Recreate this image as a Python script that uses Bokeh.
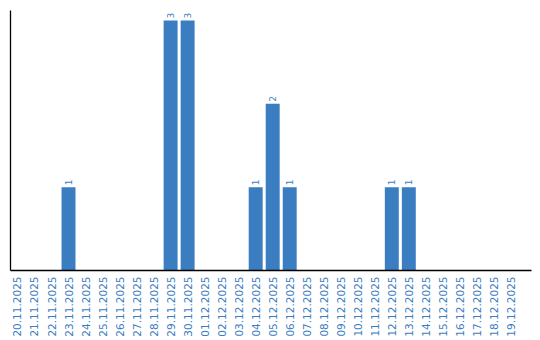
from bokeh.plotting import figure
from bokeh.models import ColumnDataSource, FixedTicker, Range1d
from bokeh.core.properties import value
from bokeh.embed import file_html
from bokeh.resources import INLINE
import math

dates = ["20.11.2025", "21.11.2025", "22.11.2025", "23.11.2025", "24.11.2025",
         "25.11.2025", "26.11.2025", "27.11.2025", "28.11.2025", "29.11.2025",
         "30.11.2025", "01.12.2025", "02.12.2025", "03.12.2025", "04.12.2025",
         "05.12.2025", "06.12.2025", "07.12.2025", "08.12.2025", "09.12.2025",
         "10.12.2025", "11.12.2025", "12.12.2025", "13.12.2025", "14.12.2025",
         "15.12.2025", "16.12.2025", "17.12.2025", "18.12.2025", "19.12.2025"]
counts = [0, 0, 0, 1, 0, 0, 0, 0, 0, 3,
          3, 0, 0, 0, 1, 2, 1, 0, 0, 0,
          0, 0, 1, 1, 0, 0, 0, 0, 0, 0]

BLUE = "#3b7dc1"

idx = list(range(len(dates)))
src = ColumnDataSource(dict(x=idx, y=counts))
lab_x = [i for i, c in zip(idx, counts) if c > 0]
lab_y = [c for c in counts if c > 0]
lab_t = [str(c) for c in lab_y]
lsrc = ColumnDataSource(dict(x=lab_x, y=lab_y, t=lab_t))

p = figure(x_range=Range1d(-0.41, len(dates) + 0.21), y_range=Range1d(0, 3.12),
           width=540, height=340,
           output_backend="svg", toolbar_location=None,
           min_border_left=10, min_border_right=9, min_border_top=10,
           min_border_bottom=70)
p.vbar(x="x", top="y", width=0.82, source=src, color=BLUE, line_color=None)
p.text(x="x", y="y", text="t", source=lsrc, angle=math.pi / 2,
       text_align="left", text_baseline="middle", y_offset=-2,
       text_font=value("DejaVu Sans"), text_font_size="9px", text_color=BLUE)

p.outline_line_color = None
p.xgrid.grid_line_color = None
p.ygrid.grid_line_color = None

p.xaxis.ticker = FixedTicker(ticks=idx)
p.xaxis.major_label_overrides = {i: d for i, d in zip(idx, dates)}
p.xaxis.major_label_orientation = math.pi / 2
p.xaxis.major_label_text_font = "DejaVu Sans"
p.xaxis.major_label_text_font_size = "10.5px"
p.xaxis.major_label_text_color = BLUE
p.xaxis.major_tick_line_color = None
p.xaxis.minor_tick_line_color = None
p.xaxis.major_tick_out = 0
p.xaxis.major_label_standoff = 6
p.xaxis.axis_line_color = "black"
p.xaxis.axis_line_width = 1.3

p.yaxis.ticker = FixedTicker(ticks=[])
p.yaxis.major_tick_line_color = None
p.yaxis.minor_tick_line_color = None
p.yaxis.major_label_text_font_size = "0px"
p.yaxis.major_tick_out = 0
p.yaxis.major_label_standoff = 0
p.yaxis.axis_line_color = "black"
p.yaxis.axis_line_width = 1.3

open("out.html", "w").write(file_html(p, INLINE))
